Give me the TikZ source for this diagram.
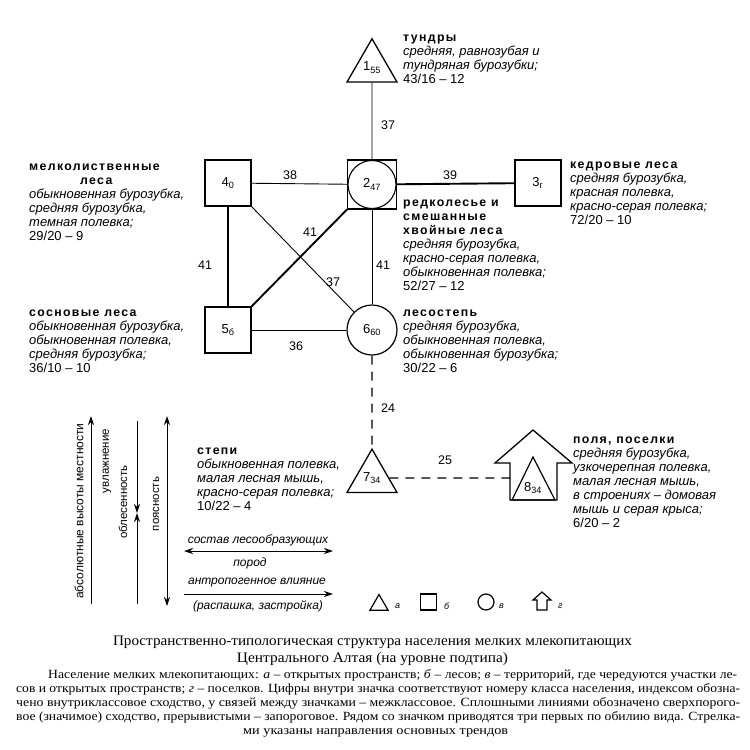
\documentclass[tikz,border=0pt]{standalone}
\usepackage{fontspec}
\usepackage{graphicx}
\setmainfont{Liberation Serif}
\newfontfamily\dsans{Liberation Sans}
\newfontfamily\dhead[LetterSpace=11]{Liberation Sans}
\usetikzlibrary{shapes.geometric,arrows.meta}
\newcommand\hdg[1]{{\dhead\bfseries\upshape\fontsize{12.3}{14}\selectfont #1}}
\newcommand\capline[2]{\resizebox{#1}{\height}{#2}}
\begin{document}
\begin{tikzpicture}[x=1pt,y=-1pt,
  spc/.style={font=\dsans\itshape\fontsize{13}{14}\selectfont, align=left, anchor=north west, inner sep=0pt},
  lab/.style={font=\dsans\fontsize{12.5}{14}\selectfont, inner sep=0pt},
  labit/.style={font=\dsans\itshape\fontsize{12}{14}\selectfont, inner sep=0pt},
  rot/.style={font=\dsans\fontsize{11.5}{14}\selectfont, inner sep=0pt, rotate=90},
  nlab/.style={font=\dsans\fontsize{13}{14}\selectfont, inner sep=0pt},
  sq/.style={draw, line width=1.2pt, minimum size=46pt, inner sep=0pt, nlab},
  tri/.style={draw, regular polygon, regular polygon sides=3, minimum size=57.7pt, line width=1.3pt, inner sep=0pt, nlab},
  circ/.style={draw, circle, minimum size=50pt, line width=1.2pt, inner sep=0pt, nlab},
  thinl/.style={line width=0.9pt},
  thickl/.style={line width=1.9pt},
  dashl/.style={line width=1.3pt, dash pattern=on 9pt off 7pt},
  vline/.style={line width=1pt},
  tip/.style={-{Stealth[length=9pt,width=6pt]}},
  caption/.style={inner sep=0pt, anchor=base west, font=\fontsize{12.5}{14}\selectfont},
  legsym/.style={draw, line width=1.2pt, inner sep=0pt},
  leglab/.style={font=\dsans\itshape\fontsize{9}{10}\selectfont, inner sep=0pt, anchor=west}
]
\useasboundingbox (0,0) rectangle (750,750);
\fill[white] (0,0) rectangle (750,750);

% ---- class nodes ----
\node[tri] (n1) at (372,67.6) {1\textsubscript{55}};
\node[sq, minimum size=49pt] (n2) at (372,184.5) {2\textsubscript{47}};
\draw[line width=1.1pt] (n2.center) circle (24pt);
\node[sq] (n3) at (538,183) {3\textsubscript{г}};
\node[sq] (n4) at (228,183) {4\textsubscript{0}};
\node[sq] (n5) at (228,330) {5\textsubscript{б}};
\node[circ] (n6) at (372,330) {6\textsubscript{60}};
\node[tri] (n7) at (372,478) {7\textsubscript{34}};
\draw[line width=1.3pt] (533,430) -- (572,463) -- (557,463) -- (557,500) -- (510,500) -- (510,463) -- (495,463) -- cycle;
\draw[line width=1.2pt] (533,457) -- (555,500) -- (512,500) -- cycle;
\node[nlab] (n8) at (533,488) {8\textsubscript{34}};
\coordinate (h8w) at (510,478);

% ---- connectors ----
\draw[thinl] (n1) -- (n2);
\draw[thinl] (n4) -- (n2);
\draw[thickl] (n2) -- (n3);
\draw[thickl] (n4) -- (n5);
\draw[thinl] (n2) -- (n6);
\draw[thinl] (n4.south east) -- (n6.north west);
\draw[thickl] (n5.north east) -- (n2.south west);
\draw[thinl] (n5) -- (n6);
\draw[dashl] (n6) -- (n7);
\draw[dashl] (n7) -- (h8w);

% ---- connector labels ----
\node[lab] (l12) at (388,125) {37};
\node[lab] (l42) at (290,175) {38};
\node[lab] (l23) at (450,175) {39};
\node[lab] (l45) at (205,265) {41};
\node[lab] (l52) at (310,232) {41};
\node[lab] (l46) at (333,282) {37};
\node[lab] (l26) at (383,265) {41};
\node[lab] (l56) at (296,346) {36};
\node[lab] (l67) at (388,408) {24};
\node[lab] (l78) at (445,460) {25};

% ---- text blocks ----
\node[spc] (t1) at (403,31.4) {\strut\hdg{тундры}\\средняя, равнозубая и\\тундряная бурозубки;\\{\upshape 43/16 – 12}};
\node[spc] (t4) at (29,160.4) {\strut\hdg{мелколиственные}\\\hspace{51pt}\hdg{леса}\\обыкновенная бурозубка,\\средняя бурозубка,\\темная полевка;\\{\upshape 29/20 – 9}};
\node[spc] (t3) at (570,158.4) {\strut\hdg{кедровые леса}\\средняя бурозубка,\\красная полевка,\\красно-серая полевка;\\{\upshape 72/20 – 10}};
\node[spc] (t2) at (403,196.4) {\strut\hdg{редколесье и}\\\hdg{смешанные}\\\hdg{хвойные леса}\\средняя бурозубка,\\красно-серая полевка,\\обыкновенная полевка;\\{\upshape 52/27 – 12}};
\node[spc] (t5) at (29,306.4) {\strut\hdg{сосновые леса}\\обыкновенная бурозубка,\\обыкновенная полевка,\\средняя бурозубка;\\{\upshape 36/10 – 10}};
\node[spc] (t6) at (403,306.4) {\strut\hdg{лесостепь}\\средняя бурозубка,\\обыкновенная полевка,\\обыкновенная бурозубка;\\{\upshape 30/22 – 6}};
\node[spc] (t7) at (197,444.4) {\strut\hdg{степи}\\обыкновенная полевка,\\малая лесная мышь,\\красно-серая полевка;\\{\upshape 10/22 – 4}};
\node[spc] (t8) at (573,433.4) {\strut\hdg{поля, поселки}\\средняя бурозубка,\\узкочерепная полевка,\\малая лесная мышь,\\в строениях – домовая\\мышь и серая крыса;\\{\upshape 6/20 – 2}};

% ---- trend arrows ----
\coordinate (a1s) at (91,604); \coordinate (a1e) at (91,416);
\draw[vline,tip] (a1s) -- (a1e);
\node[rot, font=\dsans\fontsize{12}{14}\selectfont] (r1) at (79,511) {абсолютные высоты местности};
\coordinate (a2t) at (137,421); \coordinate (a2m) at (137,513); \coordinate (a2b) at (137,604);
\draw[vline,tip] (a2t) -- (a2m);
\draw[vline,tip] (a2b) -- (a2m);
\node[rot] (r2) at (107,461) {увлажнение};
\node[rot] (r3) at (123,502) {облесенность};
\coordinate (a3t) at (167,416); \coordinate (a3b) at (167,606);
\draw[vline,{Stealth[length=9pt,width=6pt]}-{Stealth[length=9pt,width=6pt]}] (a3b) -- (a3t);
\node[rot] (r4) at (156,504) {поясность};

\coordinate (h1l) at (184,551); \coordinate (h1r) at (333,551);
\draw[vline,{Stealth[length=9pt,width=6pt]}-{Stealth[length=9pt,width=6pt]}] (h1l) -- (h1r);
\node[labit] (s1) at (258,540) {состав лесообразующих};
\node[labit] (s2) at (250,563) {пород};
\coordinate (h2l) at (184,594); \coordinate (h2r) at (333,594);
\draw[vline,tip] (h2l) -- (h2r);
\node[labit] (s3) at (257,583) {антропогенное влияние};
\node[labit] (s4) at (258,606) {(распашка, застройка)};

% ---- legend ----
\node[legsym, regular polygon, regular polygon sides=3, minimum size=21pt] (g1) at (379,605) {};
\node[leglab] (g1t) at (395,606) {а};
\node[legsym, minimum size=16pt] (g2) at (428.5,602) {};
\node[leglab] (g2t) at (444,606) {б};
\node[legsym, circle, minimum size=16pt] (g3) at (486,602) {};
\node[leglab] (g3t) at (499,606) {в};
\draw[line width=1.2pt] (542,592) -- (551,600) -- (547,600) -- (547,610) -- (537,610) -- (537,600) -- (533,600) -- cycle;
\node[leglab] (g4t) at (558,606) {г};

% ---- caption ----
\node[inner sep=0pt, anchor=base] (c1) at (372.5,645) {\capline{519pt}{\fontsize{14.5}{16}\selectfont Пространственно-типологическая структура населения мелких млекопитающих}};
\node[inner sep=0pt, anchor=base] (c2) at (372.5,662) {\capline{271pt}{\fontsize{14.5}{16}\selectfont Центрального Алтая (на уровне подтипа)}};
\node[caption] (b1) at (48,678) {\capline{689pt}{Население мелких млекопитающих: \textit{а} – открытых пространств; \textit{б} – лесов; \textit{в} – территорий, где чередуются участки ле-}};
\node[caption] (b2) at (16,692) {\capline{724pt}{сов и открытых пространств; \textit{г} – поселков. Цифры внутри значка соответствуют номеру класса населения, индексом обозна-}};
\node[caption] (b3) at (16,706) {\capline{724pt}{чено внутриклассовое сходство, у связей между значками – межклассовое. Сплошными линиями обозначено сверхпорого-}};
\node[caption] (b4) at (16,720) {\capline{724pt}{вое (значимое) сходство, прерывистыми – запороговое. Рядом со значком приводятся три первых по обилию вида. Стрелка-}};
\node[caption] (b5) at (243,734) {\capline{265pt}{ми указаны направления основных трендов}};
\end{tikzpicture}
\end{document}
